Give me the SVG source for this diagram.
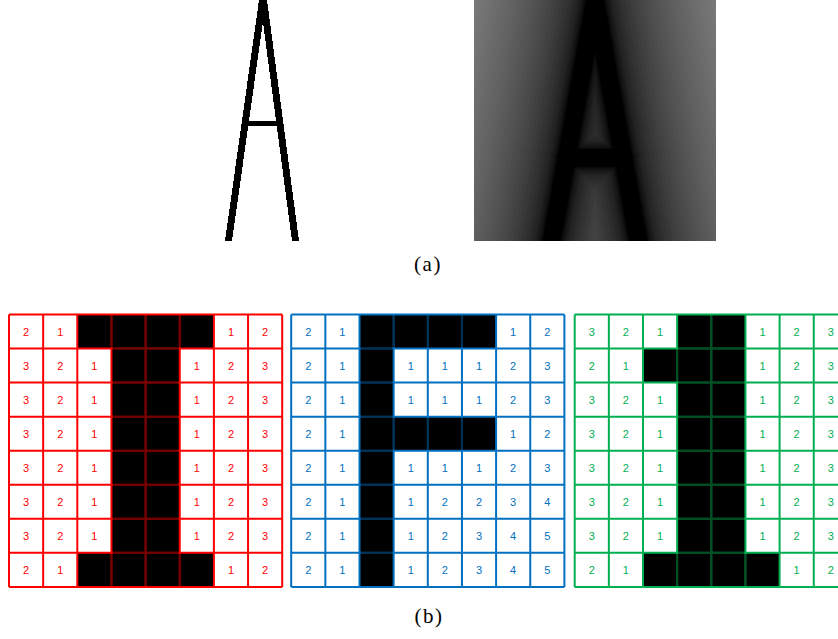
<svg xmlns="http://www.w3.org/2000/svg" xmlns:xlink="http://www.w3.org/1999/xlink" width="838" height="639" viewBox="0 0 838 639">
<style>
.lbl{font-family:"Liberation Serif","DejaVu Serif",serif;font-size:21px;letter-spacing:1.5px;text-anchor:middle;fill:#000}
.d{font-family:"Liberation Sans","Open Sans",sans-serif;font-size:11px;text-anchor:middle}
.red .d{fill:#FF0000}.blue .d{fill:#0070C0}.green .d{fill:#00B050}
.grid{fill:none;stroke-width:2}
.red .grid{stroke:#FF0000}.blue .grid{stroke:#0070C0}.green .grid{stroke:#00B050}
.inner{fill:none;stroke:#000;stroke-opacity:0.55;stroke-width:2}
</style>
<defs>
<clipPath id="dtclip"><rect x="474" y="0" width="242" height="241"/></clipPath>
<path id="sk" fill="none" stroke-linecap="round" stroke-linejoin="round" d="M551,245 L595,0 L639,245 M566,158 L624,158"/>
</defs>
<rect width="838" height="639" fill="#fff"/>
<g id="binaryA" shape-rendering="crispEdges" fill="#000">
<polygon points="259,0 266,0 232,241 225,241"/>
<polygon points="260,0 267,0 299,241 292,241"/>
<rect x="247" y="121" width="31" height="5"/>
</g>
<g id="distanceA" clip-path="url(#dtclip)">
<rect x="474" y="0" width="242" height="241" fill="rgb(126,126,126)"/>
<use xlink:href="#sk" href="#sk" stroke="rgb(124,124,124)" stroke-width="252"/>
<use xlink:href="#sk" href="#sk" stroke="rgb(122,122,122)" stroke-width="244"/>
<use xlink:href="#sk" href="#sk" stroke="rgb(120,120,120)" stroke-width="236"/>
<use xlink:href="#sk" href="#sk" stroke="rgb(117,117,117)" stroke-width="228"/>
<use xlink:href="#sk" href="#sk" stroke="rgb(115,115,115)" stroke-width="220"/>
<use xlink:href="#sk" href="#sk" stroke="rgb(113,113,113)" stroke-width="212"/>
<use xlink:href="#sk" href="#sk" stroke="rgb(110,110,110)" stroke-width="204"/>
<use xlink:href="#sk" href="#sk" stroke="rgb(108,108,108)" stroke-width="196"/>
<use xlink:href="#sk" href="#sk" stroke="rgb(105,105,105)" stroke-width="188"/>
<use xlink:href="#sk" href="#sk" stroke="rgb(103,103,103)" stroke-width="180"/>
<use xlink:href="#sk" href="#sk" stroke="rgb(100,100,100)" stroke-width="172"/>
<use xlink:href="#sk" href="#sk" stroke="rgb(98,98,98)" stroke-width="164"/>
<use xlink:href="#sk" href="#sk" stroke="rgb(95,95,95)" stroke-width="156"/>
<use xlink:href="#sk" href="#sk" stroke="rgb(92,92,92)" stroke-width="148"/>
<use xlink:href="#sk" href="#sk" stroke="rgb(89,89,89)" stroke-width="140"/>
<use xlink:href="#sk" href="#sk" stroke="rgb(86,86,86)" stroke-width="132"/>
<use xlink:href="#sk" href="#sk" stroke="rgb(83,83,83)" stroke-width="124"/>
<use xlink:href="#sk" href="#sk" stroke="rgb(80,80,80)" stroke-width="116"/>
<use xlink:href="#sk" href="#sk" stroke="rgb(76,76,76)" stroke-width="108"/>
<use xlink:href="#sk" href="#sk" stroke="rgb(73,73,73)" stroke-width="100"/>
<use xlink:href="#sk" href="#sk" stroke="rgb(69,69,69)" stroke-width="92"/>
<use xlink:href="#sk" href="#sk" stroke="rgb(65,65,65)" stroke-width="84"/>
<use xlink:href="#sk" href="#sk" stroke="rgb(61,61,61)" stroke-width="76"/>
<use xlink:href="#sk" href="#sk" stroke="rgb(56,56,56)" stroke-width="68"/>
<use xlink:href="#sk" href="#sk" stroke="rgb(51,51,51)" stroke-width="60"/>
<use xlink:href="#sk" href="#sk" stroke="rgb(47,47,47)" stroke-width="52"/>
<use xlink:href="#sk" href="#sk" stroke="rgb(45,45,45)" stroke-width="48"/>
<use xlink:href="#sk" href="#sk" stroke="rgb(41,41,41)" stroke-width="44"/>
<use xlink:href="#sk" href="#sk" stroke="rgb(38,38,38)" stroke-width="40"/>
<use xlink:href="#sk" href="#sk" stroke="rgb(35,35,35)" stroke-width="36"/>
<use xlink:href="#sk" href="#sk" stroke="rgb(30,30,30)" stroke-width="32"/>
<use xlink:href="#sk" href="#sk" stroke="rgb(28,28,28)" stroke-width="30"/>
<use xlink:href="#sk" href="#sk" stroke="rgb(25,25,25)" stroke-width="28"/>
<use xlink:href="#sk" href="#sk" stroke="rgb(22,22,22)" stroke-width="26"/>
<use xlink:href="#sk" href="#sk" stroke="rgb(18,18,18)" stroke-width="24"/>
<use xlink:href="#sk" href="#sk" stroke="rgb(14,14,14)" stroke-width="22"/>
<use xlink:href="#sk" href="#sk" stroke="rgb(9,9,9)" stroke-width="20"/>
<use xlink:href="#sk" href="#sk" stroke="rgb(0,0,0)" stroke-width="18"/>
</g>
<text class="lbl" x="428" y="271">(a)</text>

<g id="gridT" class="red" transform="translate(9,314.5)">
<rect x="68.3" y="0" width="136.6" height="34.05" fill="#000"/>
<rect x="102.45" y="34.05" width="68.3" height="204.3" fill="#000"/>
<rect x="68.3" y="238.35" width="136.6" height="34.05" fill="#000"/>
<path class="grid" d="M0,0V272.4M34.15,0V272.4M68.3,0V272.4M102.45,0V272.4M136.6,0V272.4M170.75,0V272.4M204.9,0V272.4M239.05,0V272.4M273.2,0V272.4M0,0H273.2M0,34.05H273.2M0,68.1H273.2M0,102.15H273.2M0,136.2H273.2M0,170.25H273.2M0,204.3H273.2M0,238.35H273.2M0,272.4H273.2"/>
<path class="inner" d="M136.6,1V271.4M102.45,1V33M170.75,1V33M102.45,239.4V271.4M170.75,239.4V271.4M103.5,34.05H169.7M103.5,68.1H169.7M103.5,102.15H169.7M103.5,136.2H169.7M103.5,170.25H169.7M103.5,204.3H169.7M103.5,238.35H169.7"/>
<text class="d" x="17.08" y="21">2</text><text class="d" x="51.23" y="21">1</text><text class="d" x="221.98" y="21">1</text><text class="d" x="256.13" y="21">2</text>
<text class="d" x="17.08" y="55.1">3</text><text class="d" x="51.23" y="55.1">2</text><text class="d" x="85.38" y="55.1">1</text><text class="d" x="187.83" y="55.1">1</text><text class="d" x="221.98" y="55.1">2</text><text class="d" x="256.13" y="55.1">3</text>
<text class="d" x="17.08" y="89.1">3</text><text class="d" x="51.23" y="89.1">2</text><text class="d" x="85.38" y="89.1">1</text><text class="d" x="187.83" y="89.1">1</text><text class="d" x="221.98" y="89.1">2</text><text class="d" x="256.13" y="89.1">3</text>
<text class="d" x="17.08" y="123.2">3</text><text class="d" x="51.23" y="123.2">2</text><text class="d" x="85.38" y="123.2">1</text><text class="d" x="187.83" y="123.2">1</text><text class="d" x="221.98" y="123.2">2</text><text class="d" x="256.13" y="123.2">3</text>
<text class="d" x="17.08" y="157.2">3</text><text class="d" x="51.23" y="157.2">2</text><text class="d" x="85.38" y="157.2">1</text><text class="d" x="187.83" y="157.2">1</text><text class="d" x="221.98" y="157.2">2</text><text class="d" x="256.13" y="157.2">3</text>
<text class="d" x="17.08" y="191.2">3</text><text class="d" x="51.23" y="191.2">2</text><text class="d" x="85.38" y="191.2">1</text><text class="d" x="187.83" y="191.2">1</text><text class="d" x="221.98" y="191.2">2</text><text class="d" x="256.13" y="191.2">3</text>
<text class="d" x="17.08" y="225.3">3</text><text class="d" x="51.23" y="225.3">2</text><text class="d" x="85.38" y="225.3">1</text><text class="d" x="187.83" y="225.3">1</text><text class="d" x="221.98" y="225.3">2</text><text class="d" x="256.13" y="225.3">3</text>
<text class="d" x="17.08" y="259.4">2</text><text class="d" x="51.23" y="259.4">1</text><text class="d" x="221.98" y="259.4">1</text><text class="d" x="256.13" y="259.4">2</text>
</g>

<g id="gridF" class="blue" transform="translate(291.2,314.5)">
<rect x="68.3" y="0" width="34.15" height="272.4" fill="#000"/>
<rect x="102.45" y="0" width="102.45" height="34.05" fill="#000"/>
<rect x="102.45" y="102.15" width="102.45" height="34.05" fill="#000"/>
<path class="grid" d="M0,0V272.4M34.15,0V272.4M68.3,0V272.4M102.45,0V272.4M136.6,0V272.4M170.75,0V272.4M204.9,0V272.4M239.05,0V272.4M273.2,0V272.4M0,0H273.2M0,34.05H273.2M0,68.1H273.2M0,102.15H273.2M0,136.2H273.2M0,170.25H273.2M0,204.3H273.2M0,238.35H273.2M0,272.4H273.2"/>
<path class="inner" d="M102.45,1V33M136.6,1V33M170.75,1V33M102.45,103.2V135.2M136.6,103.2V135.2M170.75,103.2V135.2M69.3,34.05H101.4M69.3,68.1H101.4M69.3,102.15H101.4M69.3,136.2H101.4M69.3,170.25H101.4M69.3,204.3H101.4M69.3,238.35H101.4"/>
<text class="d" x="17.08" y="21">2</text><text class="d" x="51.23" y="21">1</text><text class="d" x="221.98" y="21">1</text><text class="d" x="256.13" y="21">2</text>
<text class="d" x="17.08" y="55.1">2</text><text class="d" x="51.23" y="55.1">1</text><text class="d" x="119.53" y="55.1">1</text><text class="d" x="153.68" y="55.1">1</text><text class="d" x="187.83" y="55.1">1</text><text class="d" x="221.98" y="55.1">2</text><text class="d" x="256.13" y="55.1">3</text>
<text class="d" x="17.08" y="89.1">2</text><text class="d" x="51.23" y="89.1">1</text><text class="d" x="119.53" y="89.1">1</text><text class="d" x="153.68" y="89.1">1</text><text class="d" x="187.83" y="89.1">1</text><text class="d" x="221.98" y="89.1">2</text><text class="d" x="256.13" y="89.1">3</text>
<text class="d" x="17.08" y="123.2">2</text><text class="d" x="51.23" y="123.2">1</text><text class="d" x="221.98" y="123.2">1</text><text class="d" x="256.13" y="123.2">2</text>
<text class="d" x="17.08" y="157.2">2</text><text class="d" x="51.23" y="157.2">1</text><text class="d" x="119.53" y="157.2">1</text><text class="d" x="153.68" y="157.2">1</text><text class="d" x="187.83" y="157.2">1</text><text class="d" x="221.98" y="157.2">2</text><text class="d" x="256.13" y="157.2">3</text>
<text class="d" x="17.08" y="191.2">2</text><text class="d" x="51.23" y="191.2">1</text><text class="d" x="119.53" y="191.2">1</text><text class="d" x="153.68" y="191.2">2</text><text class="d" x="187.83" y="191.2">2</text><text class="d" x="221.98" y="191.2">3</text><text class="d" x="256.13" y="191.2">4</text>
<text class="d" x="17.08" y="225.3">2</text><text class="d" x="51.23" y="225.3">1</text><text class="d" x="119.53" y="225.3">1</text><text class="d" x="153.68" y="225.3">2</text><text class="d" x="187.83" y="225.3">3</text><text class="d" x="221.98" y="225.3">4</text><text class="d" x="256.13" y="225.3">5</text>
<text class="d" x="17.08" y="259.4">2</text><text class="d" x="51.23" y="259.4">1</text><text class="d" x="119.53" y="259.4">1</text><text class="d" x="153.68" y="259.4">2</text><text class="d" x="187.83" y="259.4">3</text><text class="d" x="221.98" y="259.4">4</text><text class="d" x="256.13" y="259.4">5</text>
</g>

<g id="grid1" class="green" transform="translate(574.7,314.5)">
<rect x="102.45" y="0" width="68.3" height="34.05" fill="#000"/>
<rect x="68.3" y="34.05" width="102.45" height="34.05" fill="#000"/>
<rect x="102.45" y="68.1" width="68.3" height="170.25" fill="#000"/>
<rect x="68.3" y="238.35" width="136.6" height="34.05" fill="#000"/>
<path class="grid" d="M0,0V272.4M34.15,0V272.4M68.3,0V272.4M102.45,0V272.4M136.6,0V272.4M170.75,0V272.4M204.9,0V272.4M239.05,0V272.4M273.2,0V272.4M0,0H273.2M0,34.05H273.2M0,68.1H273.2M0,102.15H273.2M0,136.2H273.2M0,170.25H273.2M0,204.3H273.2M0,238.35H273.2M0,272.4H273.2"/>
<path class="inner" d="M136.6,1V271.4M102.45,35.1V67.1M102.45,239.4V271.4M170.75,239.4V271.4M103.5,34.05H169.7M103.5,68.1H169.7M103.5,102.15H169.7M103.5,136.2H169.7M103.5,170.25H169.7M103.5,204.3H169.7M103.5,238.35H169.7"/>
<text class="d" x="17.08" y="21">3</text><text class="d" x="51.23" y="21">2</text><text class="d" x="85.38" y="21">1</text><text class="d" x="187.83" y="21">1</text><text class="d" x="221.98" y="21">2</text><text class="d" x="256.13" y="21">3</text>
<text class="d" x="17.08" y="55.1">2</text><text class="d" x="51.23" y="55.1">1</text><text class="d" x="187.83" y="55.1">1</text><text class="d" x="221.98" y="55.1">2</text><text class="d" x="256.13" y="55.1">3</text>
<text class="d" x="17.08" y="89.1">3</text><text class="d" x="51.23" y="89.1">2</text><text class="d" x="85.38" y="89.1">1</text><text class="d" x="187.83" y="89.1">1</text><text class="d" x="221.98" y="89.1">2</text><text class="d" x="256.13" y="89.1">3</text>
<text class="d" x="17.08" y="123.2">3</text><text class="d" x="51.23" y="123.2">2</text><text class="d" x="85.38" y="123.2">1</text><text class="d" x="187.83" y="123.2">1</text><text class="d" x="221.98" y="123.2">2</text><text class="d" x="256.13" y="123.2">3</text>
<text class="d" x="17.08" y="157.2">3</text><text class="d" x="51.23" y="157.2">2</text><text class="d" x="85.38" y="157.2">1</text><text class="d" x="187.83" y="157.2">1</text><text class="d" x="221.98" y="157.2">2</text><text class="d" x="256.13" y="157.2">3</text>
<text class="d" x="17.08" y="191.2">3</text><text class="d" x="51.23" y="191.2">2</text><text class="d" x="85.38" y="191.2">1</text><text class="d" x="187.83" y="191.2">1</text><text class="d" x="221.98" y="191.2">2</text><text class="d" x="256.13" y="191.2">3</text>
<text class="d" x="17.08" y="225.3">3</text><text class="d" x="51.23" y="225.3">2</text><text class="d" x="85.38" y="225.3">1</text><text class="d" x="187.83" y="225.3">1</text><text class="d" x="221.98" y="225.3">2</text><text class="d" x="256.13" y="225.3">3</text>
<text class="d" x="17.08" y="259.4">2</text><text class="d" x="51.23" y="259.4">1</text><text class="d" x="221.98" y="259.4">1</text><text class="d" x="256.13" y="259.4">2</text>
</g>
<text class="lbl" x="429" y="623">(b)</text>
</svg>
